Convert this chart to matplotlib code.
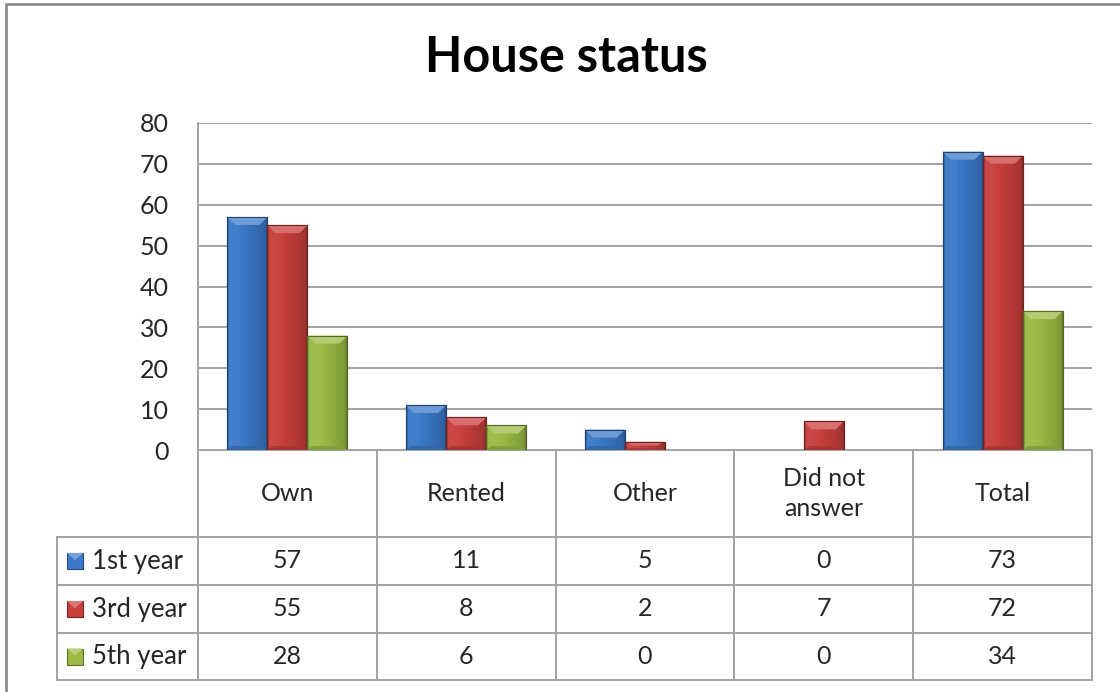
import matplotlib
matplotlib.use("Agg")
import matplotlib.pyplot as plt
import numpy as np
from matplotlib.colors import to_rgb
from matplotlib.patches import Polygon, Rectangle
from matplotlib.lines import Line2D

plt.rcParams['font.family'] = ['Lato', 'DejaVu Sans']

# ---------------- data ----------------
title = "House status"
categories = ["Own", "Rented", "Other", "Did not\nanswer", "Total"]
series_names = ["1st year", "3rd year", "5th year"]
first_year = [57, 11, 5, 0, 73]
third_year = [55, 8, 2, 7, 72]
fifth_year = [28, 6, 0, 0, 34]
series_values = [first_year, third_year, fifth_year]
y_ticks = [0, 10, 20, 30, 40, 50, 60, 70, 80]

# ---------------- style ----------------
base_colors = ["#3b79c8", "#c83f3c", "#9abb44"]
grid_col = "#a3a3a3"
text_col = "#262626"

W, H = 1120, 692
fig = plt.figure(figsize=(W / 100, H / 100), dpi=100)
fig.patch.set_facecolor("white")

# pixel layout
ax_l, ax_r, ax_t, ax_b = 198, 1092, 123, 450
row_edges = [450, 537, 585, 633, 680]
leg_l = 57

ov = fig.add_axes([0, 0, 1, 1], zorder=0)
ov.set_xlim(0, W)
ov.set_ylim(H, 0)
ov.axis("off")

ax = fig.add_axes([ax_l / W, 1 - ax_b / H, (ax_r - ax_l) / W, (ax_b - ax_t) / H], zorder=1)
ax.patch.set_alpha(0)

ncat = len(categories)
x = np.arange(ncat)
bw = 0.224
offsets = [-bw, 0, bw]


def shade(c, f):
    r = np.array(to_rgb(c))
    if f >= 1:
        return tuple(r + (1 - r) * (f - 1))
    return tuple(r * f)


def gradient_img(c):
    pos = [0.0, 0.05, 0.3, 0.7, 0.93, 1.0]
    fac = [0.62, 1.05, 1.03, 0.9, 0.82, 0.6]
    xs = np.linspace(0, 1, 64)
    cols = [np.interp(xx, pos, fac) for xx in xs]
    return np.array([shade(c, f) for f in cols])[None, :, :]


px_per_unit = (ax_b - ax_t) / 80.0
bevel_h = 8 / px_per_unit

for s, (vals, c, off) in enumerate(zip(series_values, base_colors, offsets)):
    bars = ax.bar(x + off, vals, width=bw, color=c, edgecolor=shade(c, 0.6),
                  linewidth=0.8, zorder=3)
    img = gradient_img(c)
    for b, v in zip(bars, vals):
        if v <= 0:
            b.set_visible(False)
            continue
        x0, w, h = b.get_x(), b.get_width(), b.get_height()
        im = ax.imshow(img, extent=[x0, x0 + w, 0, h], aspect="auto",
                       zorder=3.5, interpolation="bilinear")
        im.set_clip_path(b)
        bh = min(bevel_h, h * 0.45)
        ins = w * 0.2
        top = Polygon([[x0, h], [x0 + w, h], [x0 + w - ins, h - bh], [x0 + ins, h - bh]],
                      closed=True, facecolor=shade(c, 1.25), edgecolor="none", zorder=4)
        ax.add_patch(top)
        bb = min(bevel_h * 0.5, h * 0.2)
        bot = Polygon([[x0, 0], [x0 + w, 0], [x0 + w - ins * 0.6, bb], [x0 + ins * 0.6, bb]],
                      closed=True, facecolor=shade(c, 0.85), edgecolor="none", zorder=4)
        ax.add_patch(bot)
        ax.add_patch(Rectangle((x0, 0), w, h, fill=False, edgecolor=shade(c, 0.55),
                               linewidth=0.8, zorder=4.5))

ax.set_xlim(-0.5, ncat - 0.5)
ax.set_ylim(0, 80)
ax.set_yticks(y_ticks)
ax.set_yticklabels([str(t) for t in y_ticks], fontsize=18, color=text_col)
ax.tick_params(axis="y", length=0, pad=21)
ax.tick_params(axis="x", length=0, labelbottom=False)
ax.set_xticks([])
ax.yaxis.grid(True, color=grid_col, linewidth=1.4, zorder=0)
ax.set_axisbelow(True)
for sp in ["top", "right", "bottom"]:
    ax.spines[sp].set_visible(False)
ax.spines["left"].set_color(grid_col)
ax.spines["left"].set_linewidth(1.4)

# ---------------- data table ----------------
col_w = (ax_r - ax_l) / ncat
col_edges = [ax_l + i * col_w for i in range(ncat + 1)]
lw = 1.4
ov.add_line(Line2D([ax_l, ax_r], [row_edges[0]] * 2, color=grid_col, lw=lw))
for ye in row_edges[1:]:
    ov.add_line(Line2D([leg_l, ax_r], [ye] * 2, color=grid_col, lw=lw))
for xe in col_edges:
    ov.add_line(Line2D([xe, xe], [row_edges[0], row_edges[-1]], color=grid_col, lw=lw))
ov.add_line(Line2D([leg_l, leg_l], [row_edges[1], row_edges[-1]], color=grid_col, lw=lw))

hdr_c = (row_edges[0] + row_edges[1]) / 2
for i, cat in enumerate(categories):
    cx = (col_edges[i] + col_edges[i + 1]) / 2
    ov.text(cx, hdr_c, cat, ha="center", va="center", fontsize=18, color=text_col,
            linespacing=1.4)

for r, (name, vals, c) in enumerate(zip(series_names, series_values, base_colors)):
    cy = (row_edges[r + 1] + row_edges[r + 2]) / 2
    k = 16
    kx, ky = 67, cy - k / 2
    ov.add_patch(Rectangle((kx, ky), k, k, facecolor=c, edgecolor=shade(c, 0.6), lw=0.8))
    ov.add_patch(Polygon([[kx, ky], [kx + k, ky], [kx + k / 2, ky + k * 0.45]],
                         closed=True, facecolor=shade(c, 1.3), edgecolor="none"))
    ov.text(92, cy, name, ha="left", va="center", fontsize=18.5, color=text_col)
    for i, v in enumerate(vals):
        cx = (col_edges[i] + col_edges[i + 1]) / 2
        ov.text(cx, cy, str(v), ha="center", va="center", fontsize=18, color=text_col)

# title
ov.text(566, 58, title, ha="center", va="center", fontsize=35, fontweight="bold", color="black")

# outer frame
ov.add_line(Line2D([6, 6, W + 5], [H + 5, 3.5, 3.5], color="#878787", lw=1.9,
                   solid_joinstyle="miter"))

fig.savefig("out.png", dpi=100, facecolor="white")
